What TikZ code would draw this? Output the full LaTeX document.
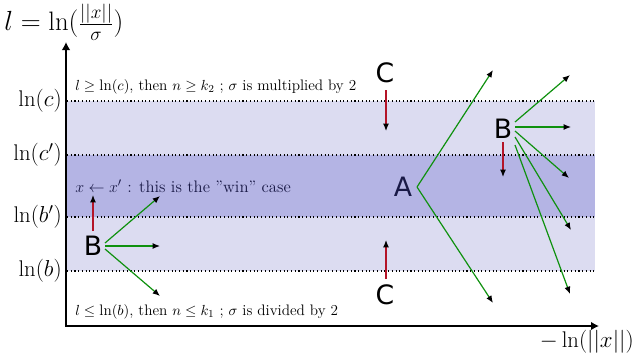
\documentclass[tikz,border=0pt]{standalone}
\usepackage{fontspec}
\newfontfamily\dejavu{DejaVu Sans}
\usetikzlibrary{arrows.meta}
\definecolor{bandlight}{RGB}{220,220,241}
\definecolor{banddark}{RGB}{180,180,228}
\definecolor{grn}{RGB}{15,145,15}
\definecolor{rd}{RGB}{180,20,40}
\definecolor{inkdark}{RGB}{25,25,70}
\begin{document}
\begin{tikzpicture}[x=0.75pt,y=-0.75pt,
 tip/.style={-{Latex[length=5.5pt,width=4.5pt,black]}},
 move/.style={grn, line width=0.9pt, tip},
 shiftarrow/.style={rd, line width=0.9pt, tip},
 letter/.style={font=\dejavu\fontsize{20}{24}\selectfont, inner sep=0pt},
 level/.style={font=\fontsize{17}{20}\selectfont, anchor=east, inner sep=0pt},
 note/.style={font=\fontsize{11.4}{14}\selectfont, anchor=west, inner sep=0pt},
 bound/.style={dotted, line width=0.8pt},
 axis/.style={line width=1.6pt, {Latex[length=6pt,width=6.5pt]}-{Latex[length=6pt,width=6.5pt]}}]
\useasboundingbox (0,0) rectangle (635,357);
% bands
\fill[bandlight] (67,101) rectangle (595,155);
\fill[banddark] (67,155) rectangle (595,217);
\fill[bandlight] (67,217) rectangle (595,271);
% boundaries
\coordinate (cL) at (67,101); \coordinate (cR) at (595,101);
\coordinate (cpL) at (67,155); \coordinate (cpR) at (595,155);
\coordinate (bpL) at (67,217); \coordinate (bpR) at (595,217);
\coordinate (bL) at (67,271); \coordinate (bR) at (595,271);
\draw[bound] (cL) -- (cR);
\draw[bound] (cpL) -- (cpR);
\draw[bound] (bpL) -- (bpR);
\draw[bound] (bL) -- (bR);
% axes
\coordinate (O) at (66,326);
\coordinate (ytip) at (66,42);
\coordinate (xtip) at (599,326);
\draw[axis] (ytip) -- (O) -- (xtip);
% level labels
\node[level] (lc) at (62,101) {$\ln(c)$};
\node[level] (lcp) at (62,155) {$\ln(c')$};
\node[level] (lbp) at (62,217) {$\ln(b')$};
\node[level] (lb) at (62,271) {$\ln(b)$};
\node[font=\fontsize{20}{24}\selectfont, inner sep=0pt] (title) at (64,22) {$l = \ln(\frac{||x||}{\sigma})$};
\node[font=\fontsize{17}{20}\selectfont, anchor=east, inner sep=0pt] (xlab) at (634,342) {$-\ln(||x||)$};
% notes
\node[note] (topnote) at (75,87) {$l \geq \ln(c)$, then $n \geq k_2$ ; $\sigma$ is multiplied by 2};
\node[note, font=\fontsize{12.5}{15}\selectfont, text=inkdark] (winnote) at (75,186) {$x \leftarrow x'$ : this is the ''win'' case};
\node[note] (botnote) at (75,312) {$l \leq \ln(b)$, then $n \leq k_1$ ; $\sigma$ is divided by 2};
% letters
\node[letter] (Bl) at (93,246) {B};
\node[letter, text=inkdark] (A) at (403,187) {A};
\node[letter] (Ct) at (385,73) {C};
\node[letter] (Cb) at (385,295) {C};
\node[letter] (Br) at (503,129) {B};
% left B moves
\coordinate (bl1) at (105,243); \coordinate (tl1) at (160,196);
\coordinate (bl2) at (105,246); \coordinate (tl2) at (160,246);
\coordinate (bl3) at (105,249); \coordinate (tl3) at (160,296);
\draw[move] (bl1) -- (tl1);
\draw[move] (bl2) -- (tl2);
\draw[move] (bl3) -- (tl3);
\coordinate (rl0) at (93,231); \coordinate (rl1) at (93,195);
\draw[shiftarrow] (rl0) -- (rl1);
% A moves
\coordinate (a0) at (417,187);
\coordinate (ta1) at (493,70);
\coordinate (ta2) at (493,303);
\draw[move] (a0) -- (ta1);
\draw[move] (a0) -- (ta2);
% C arrows
\coordinate (ct0) at (386,90); \coordinate (ct1) at (386,131);
\draw[shiftarrow] (ct0) -- (ct1);
\coordinate (cb0) at (386,279); \coordinate (cb1) at (386,240);
\draw[shiftarrow] (cb0) -- (cb1);
% right B moves
\coordinate (br1) at (515,122); \coordinate (tr1) at (570,75);
\coordinate (br2) at (515,127); \coordinate (tr2) at (571,127);
\coordinate (br3) at (515,131); \coordinate (tr3) at (569,178);
\coordinate (br4) at (515,137); \coordinate (tr4) at (571,230);
\coordinate (br5) at (515,145); \coordinate (tr5) at (570,294);
\draw[move] (br1) -- (tr1);
\draw[move] (br2) -- (tr2);
\draw[move] (br3) -- (tr3);
\draw[move] (br4) -- (tr4);
\draw[move] (br5) -- (tr5);
\coordinate (rr0) at (503,142); \coordinate (rr1) at (503,177);
\draw[shiftarrow] (rr0) -- (rr1);
\end{tikzpicture}
\end{document}
